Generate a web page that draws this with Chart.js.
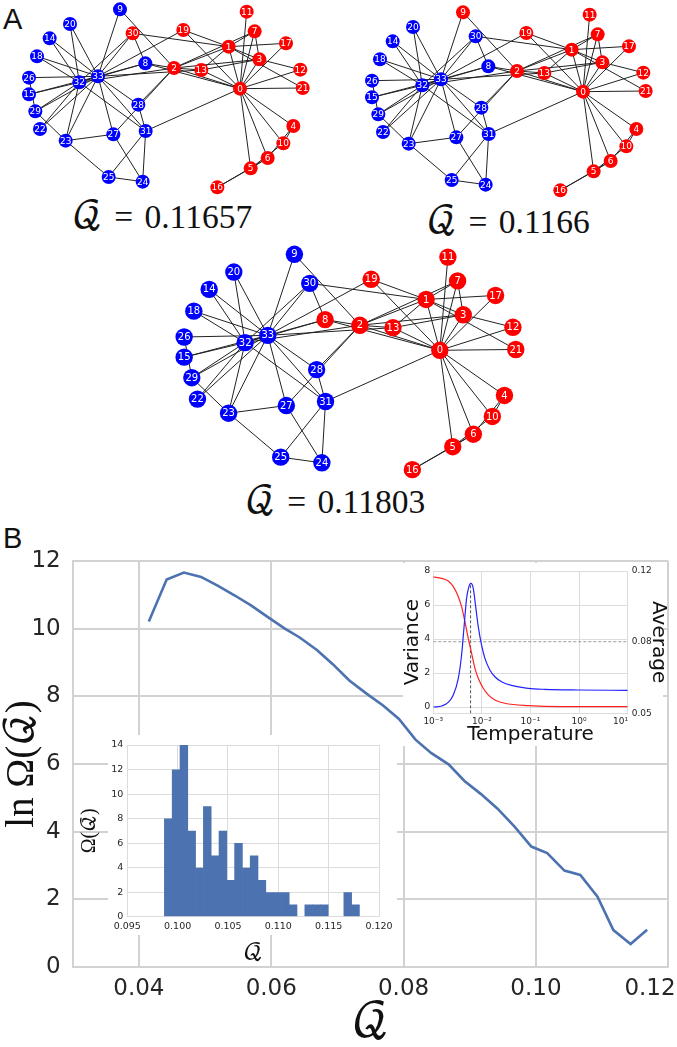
<!DOCTYPE html>
<html>
<head>
<meta charset="utf-8">
<script src="https://cdn.jsdelivr.net/npm/chart.js@4"></script>
<style>
html,body{margin:0;padding:0;background:#fff;width:677px;height:1047px;overflow:hidden;}
canvas{position:absolute;}
.txt{position:absolute;white-space:nowrap;color:#111;line-height:1;}
.cap{font-family:'Liberation Serif','DejaVu Math TeX Gyre',serif;font-size:33.5px;word-spacing:3px;transform:translateX(-50%);}
.cap span{font-size:37px;line-height:0;}
.letter{font-family:'Liberation Sans',sans-serif;font-size:29px;}
</style>
</head>
<body>
<div class="txt letter" style="left:3px;top:5px">A</div>
<div class="txt letter" style="left:3px;top:524px">B</div>
<div class="txt cap" style="left:162px;top:200px"><span>𝒬</span> = 0.11657</div>
<div class="txt cap" style="left:508px;top:205px"><span>𝒬</span> = 0.1166</div>
<div class="txt cap" style="left:335px;top:485px"><span>𝒬</span> = 0.11803</div>

<canvas id="net1" width="340" height="200" style="left:0;top:0"></canvas>
<canvas id="net2" width="340" height="200" style="left:343px;top:3px"></canvas>
<canvas id="net3" width="412" height="242" style="left:149px;top:243px"></canvas>
<canvas id="main" width="677" height="527" style="left:0;top:520px"></canvas>
<canvas id="temp" width="282" height="200" style="left:395px;top:555px"></canvas>
<canvas id="hist" width="330" height="240" style="left:70px;top:730px"></canvas>

<script>
// node layout, index = node number
const nodeX = [720,686,522,778,880,752,803,764,436,360,850,740,901,604,149,87,652,858,111,550,210,908,120,197,428,326,87,340,415,106,398,437,238,294];
const nodeY = [266,140,204,178,378,505,474,94,190,28,430,35,209,210,115,283,562,130,169,90,72,264,387,422,545,531,233,403,314,334,100,393,247,229];
const edgeFrom = [0,0,0,0,0,0,0,0,0,0,0,0,0,0,0,0,1,1,1,1,1,1,1,1,2,2,2,2,2,2,2,2,3,3,3,4,4,5,5,5,6,8,8,8,9,13,14,14,15,15,18,18,19,20,20,22,22,23,23,23,23,23,24,24,24,25,26,26,27,28,28,29,29,30,30,31,31,32];
const edgeTo = [1,2,3,4,5,6,7,8,10,11,12,13,17,19,21,31,2,3,7,13,17,19,21,30,3,7,8,9,13,27,28,32,7,12,13,6,10,6,10,16,16,30,32,33,33,33,32,33,32,33,32,33,33,32,33,32,33,25,27,29,32,33,25,27,31,31,29,33,33,31,33,32,33,32,33,32,33,33];
const reds1 = [0,1,2,3,4,5,6,7,10,11,12,13,16,17,19,21,30];
const reds2 = [0,1,2,3,4,5,6,7,9,10,11,12,13,16,17,19,21];
const reds3 = [0,1,2,3,4,5,6,7,8,10,11,12,13,16,17,19,21];

// main curve
const qValues = [0.0415,0.0442,0.0468,0.0494,0.0519,0.0545,0.057,0.0595,0.062,0.0643,0.0669,0.0693,0.0718,0.0744,0.0769,0.0793,0.0818,0.0842,0.0868,0.0892,0.0917,0.0942,0.0968,0.0993,0.1017,0.1043,0.1067,0.1093,0.1117,0.1143,0.1168];
const lnOmega = [10.21,11.45,11.66,11.53,11.27,10.98,10.68,10.34,10.01,9.74,9.37,8.95,8.47,8.08,7.73,7.33,6.72,6.32,5.99,5.5,5.11,4.68,4.14,3.56,3.37,2.85,2.72,2.08,1.09,0.68,1.1];
const mainXTicks = [0.04,0.06,0.08,0.10,0.12];
// last label sits left of its tick in the original, trailing spaces push it over
const mainXLabels = ['0.04','0.06','0.08','0.10','0.12     '];
const mainYTicks = [0,2,4,6,8,10,12];

// histogram inset
const binCentres = [0.09907,0.099845,0.10062,0.101395,0.10217,0.102945,0.10372,0.104495,0.10527,0.106045,0.10682,0.107595,0.10837,0.109145,0.10992,0.110695,0.11147,0.112245,0.11302,0.113795,0.11457,0.115345,0.11612,0.116895,0.11767];
const binCounts = [8,12,14,7,4,9,5,7,3,6,4,5,3,2,2,2,1,0,1,1,1,0,0,2,1];
const histXTicks = [0.095,0.100,0.105,0.110,0.115,0.120];
const histYTicks = [0,2,4,6,8,10,12,14];

// temperature inset
const varT = [0.001,0.00148,0.00203,0.00258,0.00327,0.00382,0.00427,0.00484,0.00541,0.00594,0.00664,0.00753,0.00841,0.00984,0.01153,0.01459,0.01848,0.02535,0.04074,0.0895,0.1971,0.953,10];
const variance = [0,0.06,0.27,0.71,1.69,3.06,4.63,6.39,7.08,7.27,6.98,5.8,4.73,3.65,2.86,2.18,1.78,1.49,1.27,1.1,1.04,1,0.98];
const avgT = [0.001,0.00148,0.00203,0.00258,0.00327,0.00382,0.00447,0.00524,0.00614,0.00719,0.00841,0.01067,0.01353,0.01848,0.02971,0.0895,0.4335,10];
const average = [7.65,7.57,7.41,7.08,6.49,5.9,5.02,4.04,3.16,2.27,1.69,1.1,0.71,0.41,0.22,0.08,0.02,0.02];
const tempXTicks = [0.001,0.01,0.1,1,10];
const tempXLabels = ['10⁻³','10⁻²','10⁻¹','10⁰','10¹     '];
const varTicks = [0,2,4,6,8];
const avgTickPos = [-0.37,3.84,8];
const avgTickLabels = ['0.05','0.08','0.12'];
const critT = 0.00585;
const critY = 3.84;

Chart.defaults.animation = false;
Chart.defaults.font.family = "'DejaVu Sans'";
Chart.defaults.color = '#262626';

const mathFont = "'Liberation Serif','DejaVu Math TeX Gyre',serif";
const gridGrey = '#dcdcdc';
const frameGrey = '#d2d2d2';

function pairs(xs, ys){
    return xs.map((x, i) => ({x, y: ys[i]}));
}

// fixes the axis box so the plot area lands where it should, whatever the tick labels want
function fixHeight(h){
    return ax => { ax.height = h; ax.paddingLeft = 0; ax.paddingRight = 0; };
}
function fixWidth(w){
    return ax => { ax.width = w; ax.paddingTop = 0; ax.paddingBottom = 0; };
}

const nodeLabels = {
    id: 'nodeLabels',
    afterDatasetsDraw(chart, args, opts){
        const ctx = chart.ctx;
        ctx.save();
        ctx.fillStyle = '#fff';
        ctx.font = opts.size + "px 'DejaVu Sans'";
        ctx.textAlign = 'center';
        ctx.textBaseline = 'middle';
        nodeX.forEach((x, i) => {
            ctx.fillText(String(i), chart.scales.x.getPixelForValue(x), chart.scales.y.getPixelForValue(nodeY[i]) + 0.5);
        });
        ctx.restore();
    }
};

function drawNetwork(id, reds, radius, textSize){
    const edgePoints = [];
    edgeFrom.forEach((a, i) => {
        const b = edgeTo[i];
        edgePoints.push({x: nodeX[a], y: nodeY[a]}, {x: nodeX[b], y: nodeY[b]}, {x: null, y: null});
    });
    return new Chart(document.getElementById(id), {
        type: 'scatter',
        data: {
            datasets: [{
                data: pairs(nodeX, nodeY),
                pointRadius: radius,
                pointBorderWidth: 0,
                pointBackgroundColor: nodeX.map((x, i) => reds.includes(i) ? '#ff0000' : '#0000ff'),
                order: 0
            }, {
                data: edgePoints,
                showLine: true,
                spanGaps: false,
                pointRadius: 0,
                borderColor: '#222',
                borderWidth: 1,
                order: 1
            }]
        },
        options: {
            responsive: false,
            layout: {autoPadding: false},
            plugins: {legend: {display: false}, tooltip: {enabled: false}, nodeLabels: {size: textSize}},
            scales: {
                x: {display: false, min: 0, max: 1020},
                y: {display: false, min: 0, max: 600, reverse: true}
            }
        },
        plugins: [nodeLabels]
    });
}

drawNetwork('net1', reds1, 7, 9);
drawNetwork('net2', reds2, 7, 9);
drawNetwork('net3', reds3, 8.7, 10);

// white boxes behind the insets, grid stops there but the curve does not
const insetBoxes = {
    id: 'insetBoxes',
    beforeDatasetsDraw(chart){
        const ctx = chart.ctx;
        ctx.save();
        ctx.fillStyle = '#fff';
        ctx.fillRect(403, 43, 260, 183);
        ctx.fillRect(108, 215, 289, 200);
        ctx.restore();
    }
};

new Chart(document.getElementById('main'), {
    type: 'line',
    data: {
        datasets: [{
            data: pairs(qValues, lnOmega),
            borderColor: '#4c72b0',
            borderWidth: 2.6,
            pointRadius: 0,
            tension: 0
        }]
    },
    options: {
        responsive: false,
        layout: {autoPadding: false, padding: {top: 41, right: 8.7}},
        plugins: {legend: {display: false}, tooltip: {enabled: false}},
        scales: {
            x: {
                type: 'linear',
                bounds: 'data',
                min: 0.03,
                max: 0.12,
                afterBuildTicks: ax => { ax.ticks = mainXTicks.map(value => ({value})); },
                afterFit: fixHeight(80),
                grid: {color: frameGrey, lineWidth: 2, drawTicks: false},
                border: {color: frameGrey, width: 2},
                ticks: {font: {size: 23}, padding: 8, maxRotation: 0, autoSkip: false, callback: (v, i) => mainXLabels[i]},
                title: {display: true, text: '𝒬', font: {family: mathFont, size: 46, lineHeight: 1}, padding: 0, color: '#111'}
            },
            y: {
                min: 0,
                max: 12,
                afterBuildTicks: ax => { ax.ticks = mainYTicks.map(value => ({value})); },
                afterFit: fixWidth(72.7),
                grid: {color: frameGrey, lineWidth: 2, drawTicks: false},
                border: {color: frameGrey, width: 2},
                ticks: {font: {size: 23}, padding: 12},
                title: {display: true, text: 'ln Ω(𝒬)', font: {family: mathFont, size: 39, lineHeight: 1}, padding: {top: 3, bottom: 0}, color: '#111'}
            }
        }
    },
    plugins: [insetBoxes]
});

new Chart(document.getElementById('temp'), {
    type: 'line',
    data: {
        datasets: [{
            data: pairs(varT, variance),
            borderColor: '#2222ff',
            borderWidth: 1.2,
            pointRadius: 0,
            cubicInterpolationMode: 'monotone'
        }, {
            data: pairs(avgT, average),
            borderColor: '#ff2222',
            borderWidth: 1.2,
            pointRadius: 0,
            cubicInterpolationMode: 'monotone'
        }, {
            data: [{x: tempXTicks[0], y: critY}, {x: tempXTicks[4], y: critY}],
            borderColor: '#999',
            borderWidth: 1,
            borderDash: [3, 2],
            pointRadius: 0
        }, {
            data: [{x: critT, y: avgTickPos[0]}, {x: critT, y: 7.2}],
            borderColor: '#555',
            borderWidth: 1,
            borderDash: [3, 2],
            pointRadius: 0
        }]
    },
    options: {
        responsive: false,
        layout: {autoPadding: false, padding: {top: 16}},
        plugins: {legend: {display: false}, tooltip: {enabled: false}},
        scales: {
            x: {
                type: 'logarithmic',
                min: 0.001,
                max: 10,
                afterBuildTicks: ax => { ax.ticks = tempXTicks.map(value => ({value})); },
                afterFit: fixHeight(41.7),
                grid: {color: gridGrey, lineWidth: 1, drawTicks: false},
                border: {color: gridGrey},
                ticks: {font: {size: 9}, padding: 3, maxRotation: 0, autoSkip: false, callback: (v, i) => tempXLabels[i]},
                title: {display: true, text: 'Temperature', font: {size: 20}, padding: {top: 0, bottom: 8}, color: '#111'}
            },
            y: {
                min: avgTickPos[0],
                max: 8,
                afterBuildTicks: ax => { ax.ticks = varTicks.map(value => ({value})); },
                afterFit: fixWidth(38.3),
                grid: {color: gridGrey, lineWidth: 1, drawTicks: false},
                border: {color: gridGrey},
                ticks: {font: {size: 9.5}, padding: 3},
                title: {display: true, text: 'Variance', font: {size: 20}, padding: {top: 6, bottom: 0}, color: '#111'}
            },
            y1: {
                position: 'right',
                min: avgTickPos[0],
                max: 8,
                afterBuildTicks: ax => { ax.ticks = avgTickPos.map(value => ({value})); },
                afterFit: fixWidth(49.3),
                grid: {display: false, drawTicks: false},
                border: {color: gridGrey},
                ticks: {font: {size: 9}, padding: 4, callback: (v, i) => avgTickLabels[i]},
                title: {display: true, text: 'Average', font: {size: 20}, padding: {top: 7, bottom: 0}, color: '#111'}
            }
        }
    }
});

new Chart(document.getElementById('hist'), {
    type: 'bar',
    data: {
        datasets: [{
            data: pairs(binCentres, binCounts),
            backgroundColor: '#4c72b0',
            borderWidth: 0,
            barPercentage: 1.08,
            categoryPercentage: 1
        }]
    },
    options: {
        responsive: false,
        layout: {autoPadding: false, padding: {top: 15, right: 21}},
        plugins: {legend: {display: false}, tooltip: {enabled: false}},
        scales: {
            x: {
                type: 'linear',
                bounds: 'data',
                offset: false,
                min: 0.095,
                max: 0.12,
                afterBuildTicks: ax => { ax.ticks = histXTicks.map(value => ({value})); },
                afterFit: fixHeight(53.3),
                grid: {color: gridGrey, lineWidth: 1, drawTicks: false, offset: false},
                border: {color: gridGrey},
                ticks: {font: {size: 9.5}, padding: 4, maxRotation: 0, autoSkip: false, callback: v => v.toFixed(3)},
                title: {display: true, text: '𝒬', font: {family: mathFont, size: 24}, padding: {top: 0, bottom: 2}, color: '#111'}
            },
            y: {
                min: 0,
                max: 14,
                afterBuildTicks: ax => { ax.ticks = histYTicks.map(value => ({value})); },
                afterFit: fixWidth(57.3),
                grid: {color: gridGrey, lineWidth: 1, drawTicks: false},
                border: {color: gridGrey},
                ticks: {font: {size: 9.5}, padding: 4},
                title: {display: true, text: 'Ω(𝒬)', font: {family: mathFont, size: 20}, padding: {top: 8, bottom: 0}, color: '#111'}
            }
        }
    }
});
</script>
</body>
</html>
